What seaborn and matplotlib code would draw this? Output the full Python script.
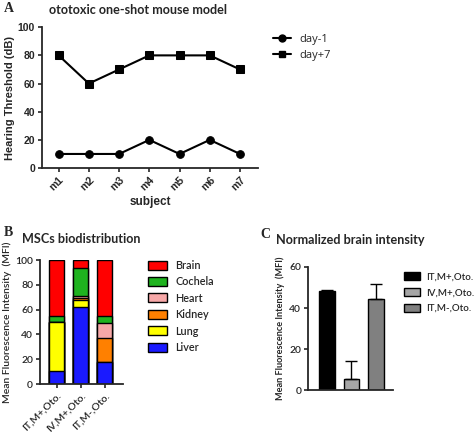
import numpy as np
import pandas as pd
import matplotlib
matplotlib.use("Agg")
import matplotlib.pyplot as plt
import seaborn as sns
from matplotlib.patches import Patch
from matplotlib.lines import Line2D

# ---- data ----
subjects = ["m1", "m2", "m3", "m4", "m5", "m6", "m7"]
day_minus1 = [10, 10, 10, 20, 10, 20, 10]
day_plus7 = [80, 60, 70, 80, 80, 80, 70]

groups = ["IT,M+,Oto.", "IV,M+,Oto.", "IT,M-,Oto."]
organs = ["Liver", "Lung", "Kidney", "Heart", "Cochela", "Brain"]
liver = [10.5, 62.5, 17.5]
lung = [39.5, 5.0, 0.0]
kidney = [0.0, 2.0, 19.5]
heart = [0.0, 1.5, 12.5]
cochlea = [5.0, 22.5, 5.0]
brain = [45.0, 6.5, 45.5]
organ_colors = ["#1a1aff", "#ffff00", "#ff8000", "#f7a8a8", "#1fb31f", "#ff0000"]

brain_mean = [48.5, 5.5, 44.5]
brain_err = [0.5, 8.5, 7.0]
brain_colors = ["#000000", "#a6a6a6", "#808080"]

sns.set_style("ticks")
plt.rcParams["font.family"] = ["Lato", "DejaVu Sans"]
plt.rcParams["axes.linewidth"] = 1.3

fig = plt.figure(figsize=(4.74, 4.32), dpi=100)

# ---- panel A ----
axA = fig.add_axes([0.0886, 0.611, 0.456, 0.326])
dfA = pd.DataFrame({"subject": subjects * 2,
                    "thr": day_minus1 + day_plus7,
                    "day": ["day-1"] * 7 + ["day+7"] * 7})
sns.lineplot(data=dfA, x="subject", y="thr", style="day", markers=["o", "s"],
             dashes=False, color="black", lw=1.5, markersize=5.5,
             markeredgecolor="black", sort=False, legend=False, ax=axA)
axA.set_ylim(0, 100)
axA.set_yticks(range(0, 101, 20))
axA.set_xlim(-0.55, 6.6)
axA.set_xlabel("subject", fontsize=8.5, fontweight="bold", family="Liberation Sans", labelpad=2)
axA.set_ylabel("Hearing Threshold (dB)", fontsize=8, fontweight="bold", family="Liberation Sans", labelpad=2)
for lab in axA.get_xticklabels():
    lab.set_rotation(45)
    lab.set_ha("right")
    lab.set_rotation_mode("anchor")
axA.tick_params(labelsize=7.5, width=1.2, length=3, pad=2)
for lab in axA.get_xticklabels() + axA.get_yticklabels():
    lab.set_fontweight("bold")
    lab.set_family("Liberation Sans")
sns.despine(ax=axA)
handlesA = [Line2D([0], [0], color="black", marker="o", lw=1.5, markersize=5),
            Line2D([0], [0], color="black", marker="s", lw=1.5, markersize=5)]
fig.legend(handlesA, ["day-1", "day+7"], loc="upper left", bbox_to_anchor=(0.555, 0.945),
           frameon=False, handlelength=1.6, labelspacing=0.45,
           prop={"family": ["Open Sans"], "size": 8})
fig.text(0.008, 0.98, "A", fontsize=10, fontweight="bold", family="Liberation Serif", va="center")
fig.text(0.103, 0.978, "ototoxic one-shot mouse model", fontsize=9.1, fontweight="bold", va="center")

# ---- panel B ----
axB = fig.add_axes([0.0844, 0.111, 0.175, 0.287])
stack = np.array([liver, lung, kidney, heart, cochlea, brain])
cum = stack.cumsum(axis=0)
for i in range(len(organs) - 1, -1, -1):
    sns.barplot(x=groups, y=cum[i], color=organ_colors[i], width=0.62,
                edgecolor="black", linewidth=1.0, saturation=1, ax=axB)
axB.set_ylim(0, 100)
axB.set_xlim(-0.7, 2.75)
axB.set_yticks(range(0, 101, 20))
axB.set_ylabel("Mean Fluorescence Intensity  (MFI)", fontsize=7.5, fontweight="semibold", labelpad=2)
for lab in axB.get_xticklabels():
    lab.set_rotation(45)
    lab.set_ha("right")
    lab.set_rotation_mode("anchor")
axB.tick_params(labelsize=7.5, width=1.2, length=3, pad=2)
for lab in axB.get_xticklabels() + axB.get_yticklabels():
    lab.set_fontweight("semibold")
sns.despine(ax=axB)
handlesB = [Patch(facecolor=organ_colors[i], edgecolor="black", lw=1.0) for i in range(5, -1, -1)]
fig.legend(handlesB, organs[::-1], loc="upper left", bbox_to_anchor=(0.292, 0.421),
           frameon=False, handlelength=1.7, handleheight=0.9, labelspacing=0.5,
           prop={"weight": "semibold", "size": 7.8})
fig.text(0.008, 0.461, "B", fontsize=10, fontweight="bold", family="Liberation Serif", va="center")
fig.text(0.046, 0.447, "MSCs biodistribution", fontsize=9.1, fontweight="bold", va="center")

# ---- panel C ----
axC = fig.add_axes([0.65, 0.097, 0.179, 0.285])
sns.barplot(x=groups, y=brain_mean, hue=groups, palette=brain_colors, width=0.65,
            edgecolor="black", linewidth=1.0, saturation=1, legend=False, ax=axC)
axC.errorbar(range(3), brain_mean, yerr=[[0, 0, 0], brain_err], fmt="none",
             ecolor="black", elinewidth=1.0, capsize=4, capthick=1.0)
axC.set_ylim(0, 60)
axC.set_xlim(-0.78, 2.7)
axC.set_yticks([0, 20, 40, 60])
axC.set_xticks([])
axC.set_ylabel("Mean Fluorescence Intensity  (MFI)", fontsize=6.6, fontweight="bold", labelpad=3)
axC.tick_params(labelsize=7.5, width=1.2, length=3, pad=2)
for lab in axC.get_yticklabels():
    lab.set_fontweight("semibold")
sns.despine(ax=axC)
handlesC = [Patch(facecolor=c, edgecolor="black", lw=1.0) for c in brain_colors]
fig.legend(handlesC, groups, loc="upper left", bbox_to_anchor=(0.833, 0.39),
           frameon=False, handlelength=1.7, handleheight=0.9, labelspacing=0.65,
           handletextpad=0.6, prop={"weight": "semibold", "size": 7})
fig.text(0.55, 0.457, "C", fontsize=10, fontweight="bold", family="Liberation Serif", va="center")
fig.text(0.583, 0.445, "Normalized brain intensity", fontsize=9.1, fontweight="bold", va="center")

fig.savefig("out.png", dpi=100)
